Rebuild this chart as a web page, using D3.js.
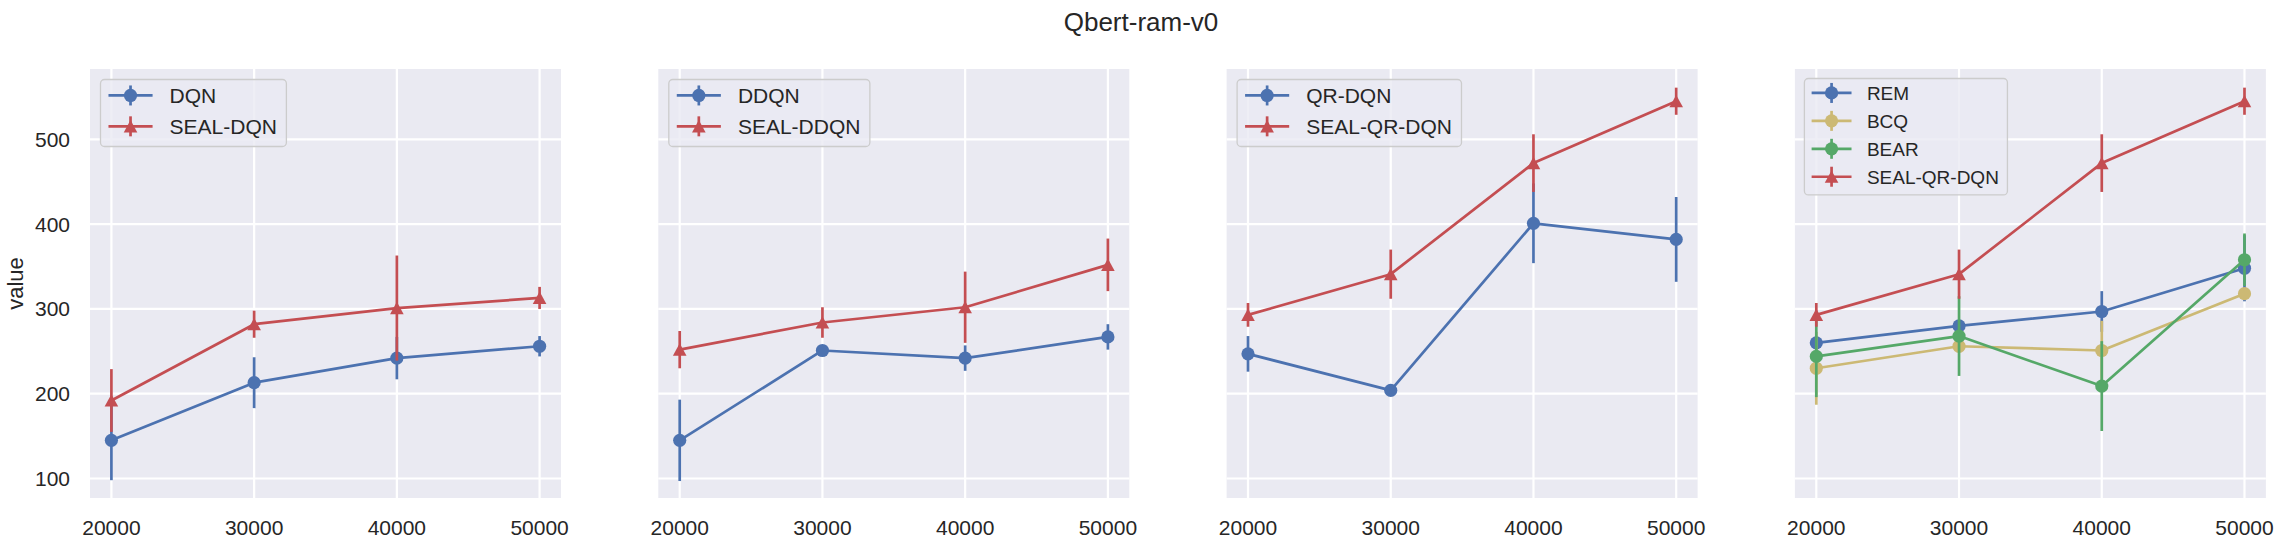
<!DOCTYPE html>
<html>
<head>
<meta charset="utf-8">
<script src="https://cdn.jsdelivr.net/npm/d3@7"></script>
<style>
  body { margin: 0; background: white; }
  text { font-family: "Liberation Sans", Arial, sans-serif; fill: #262626; }
</style>
</head>
<body>
<div id="chart"></div>
<script>
// data
var steps = [20000, 30000, 40000, 50000];
var xTicks = [20000, 30000, 40000, 50000];
var yTicks = [100, 200, 300, 400, 500];

var dqn = [145, 213, 242, 256];
var dqnErr = [47, 30, 25, 12];
var sealDqn = [192, 282, 301, 313];
var sealDqnErr = [37, 16, 62, 13];

var ddqn = [145, 251, 242, 267];
var ddqnErr = [48, 6, 15, 15];
var sealDdqn = [252, 284, 302, 352];
var sealDdqnErr = [22, 18, 42, 31];

var qrdqn = [247, 204, 401, 382];
var qrdqnErr = [21, 3, 47, 50];
var sealQrdqn = [293, 341, 472, 545];
var sealQrdqnErr = [14, 29, 34, 16];

var rem = [260, 280, 297, 348];
var remErr = [8, 7, 24, 39];
var bcq = [230, 256, 251, 318];
var bcqErr = [43, 8, 35, 5];
var bear = [244, 268, 209, 358];
var bearErr = [48, 47, 53, 31];

var width = 2282;
var height = 548;
var plotTop = 69;
var plotH = 429;
var plotW = 471;
var firstLeft = 90;
var panelStep = 568.3;

var blue = "#4C72B0", red = "#C44E52", gold = "#CCB974", green = "#55A868";

var panels = [
    {fs: 21, series: [
        {name: "DQN", v: dqn, e: dqnErr, color: blue, marker: "circle"},
        {name: "SEAL-DQN", v: sealDqn, e: sealDqnErr, color: red, marker: "tri"}]},
    {fs: 21, series: [
        {name: "DDQN", v: ddqn, e: ddqnErr, color: blue, marker: "circle"},
        {name: "SEAL-DDQN", v: sealDdqn, e: sealDdqnErr, color: red, marker: "tri"}]},
    {fs: 21, series: [
        {name: "QR-DQN", v: qrdqn, e: qrdqnErr, color: blue, marker: "circle"},
        {name: "SEAL-QR-DQN", v: sealQrdqn, e: sealQrdqnErr, color: red, marker: "tri"}]},
    {fs: 19, series: [
        {name: "REM", v: rem, e: remErr, color: blue, marker: "circle"},
        {name: "BCQ", v: bcq, e: bcqErr, color: gold, marker: "circle"},
        {name: "BEAR", v: bear, e: bearErr, color: green, marker: "circle"},
        {name: "SEAL-QR-DQN", v: sealQrdqn, e: sealQrdqnErr, color: red, marker: "tri"}]}
];

var lw = 2.7;
var markerR = 6.6;
var triPath = "M0,-6.3L6.8,6.1L-6.8,6.1Z";

var x = d3.scaleLinear().domain([18500, 51500]).range([0, plotW]);
var y = d3.scaleLinear().domain([77, 583]).range([plotH, 0]);

var svg = d3.select("#chart")
    .append("svg")
    .attr("width", width)
    .attr("height", height);

svg.append("rect")
    .attr("width", width)
    .attr("height", height)
    .attr("fill", "white");

svg.append("text")
    .attr("x", width / 2)
    .attr("y", 31)
    .style("text-anchor", "middle")
    .style("font-size", "26px")
    .text("Qbert-ram-v0");

svg.append("text")
    .attr("transform", "translate(23," + (plotTop + plotH / 2) + ") rotate(-90)")
    .style("text-anchor", "middle")
    .style("font-size", "22px")
    .text("value");

function drawMarker(g, s, cx, cy) {
    if (s.marker == "circle") {
        g.append("circle")
            .attr("cx", cx)
            .attr("cy", cy)
            .attr("r", markerR)
            .attr("fill", s.color);
    } else {
        g.append("path")
            .attr("d", triPath)
            .attr("transform", "translate(" + cx + "," + cy + ")")
            .attr("fill", s.color);
    }
}

panels.forEach(function(p, pi) {
    var g = svg.append("g")
        .attr("transform", "translate(" + (firstLeft + pi * panelStep) + "," + plotTop + ")");

    g.append("rect")
        .attr("width", plotW)
        .attr("height", plotH)
        .attr("fill", "#EAEAF2");

    // grid
    g.selectAll(".gx")
        .data(xTicks)
        .enter().append("line")
        .attr("x1", d => x(d)).attr("x2", d => x(d))
        .attr("y1", 0).attr("y2", plotH)
        .attr("stroke", "white")
        .attr("stroke-width", 2.2);

    g.selectAll(".gy")
        .data(yTicks)
        .enter().append("line")
        .attr("x1", 0).attr("x2", plotW)
        .attr("y1", d => y(d)).attr("y2", d => y(d))
        .attr("stroke", "white")
        .attr("stroke-width", 2.2);

    // tick labels
    g.selectAll(".tx")
        .data(xTicks)
        .enter().append("text")
        .attr("x", d => x(d))
        .attr("y", 535 - plotTop)
        .style("text-anchor", "middle")
        .style("font-size", "21px")
        .text(d => d);

    if (pi == 0) {
        g.selectAll(".ty")
            .data(yTicks)
            .enter().append("text")
            .attr("x", -20)
            .attr("y", d => y(d))
            .attr("dy", "0.36em")
            .style("text-anchor", "end")
            .style("font-size", "21px")
            .text(d => d);
    }

    var line = d3.line()
        .x((d, i) => x(steps[i]))
        .y(d => y(d));

    p.series.forEach(function(s) {
        g.append("path")
            .datum(s.v)
            .attr("d", line)
            .attr("fill", "none")
            .attr("stroke", s.color)
            .attr("stroke-width", lw)
            .attr("stroke-linejoin", "round");

        s.v.forEach(function(v, i) {
            g.append("line")
                .attr("x1", x(steps[i])).attr("x2", x(steps[i]))
                .attr("y1", y(v - s.e[i])).attr("y2", y(v + s.e[i]))
                .attr("stroke", s.color)
                .attr("stroke-width", lw);
        });

        s.v.forEach(function(v, i) {
            drawMarker(g, s, x(steps[i]), y(v));
        });
    });

    // legend
    var fs = p.fs;
    var lx = fs * 0.5;
    var ly = fs * 0.5;
    var rowH = fs * 1.47;
    var boxH = fs * 0.76 + rowH * (p.series.length - 1) + fs * 0.96;
    var leg = g.append("g").attr("transform", "translate(" + lx + "," + ly + ")");
    var box = leg.append("rect")
        .attr("height", boxH)
        .attr("rx", 4)
        .attr("fill", "#EAEAF2")
        .attr("fill-opacity", 0.8)
        .attr("stroke", "#CCCCCC")
        .attr("stroke-width", 1.3);

    var maxW = 0;
    p.series.forEach(function(s, i) {
        var ry = fs * 0.76 + i * rowH;
        var x0 = fs * 0.38, x1 = x0 + fs * 2.1;
        leg.append("line")
            .attr("x1", x0).attr("x2", x1)
            .attr("y1", ry).attr("y2", ry)
            .attr("stroke", s.color)
            .attr("stroke-width", lw);
        leg.append("line")
            .attr("x1", (x0 + x1) / 2).attr("x2", (x0 + x1) / 2)
            .attr("y1", ry - 10).attr("y2", ry + 10)
            .attr("stroke", s.color)
            .attr("stroke-width", lw);
        drawMarker(leg, s, (x0 + x1) / 2, ry);
        var t = leg.append("text")
            .attr("x", fs * 3.29)
            .attr("y", ry)
            .attr("dy", "0.36em")
            .style("font-size", fs + "px")
            .text(s.name);
        maxW = Math.max(maxW, t.node().getComputedTextLength());
    });
    box.attr("width", fs * 3.29 + maxW + fs * 0.45);
});
</script>
</body>
</html>
